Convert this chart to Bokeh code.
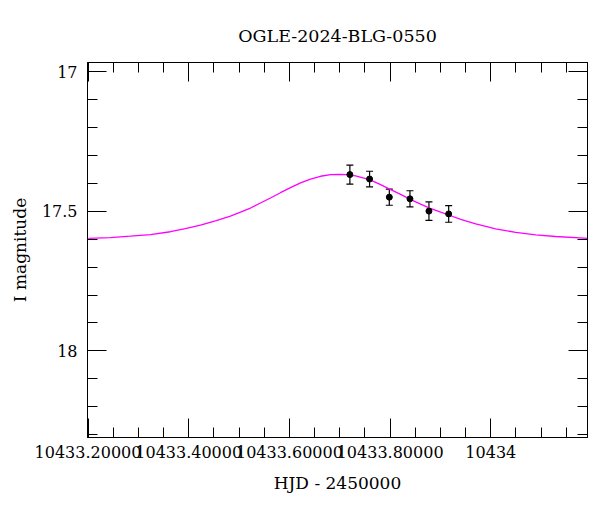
from bokeh.plotting import figure
from bokeh.models import Range1d, LinearAxis, FixedTicker, Whisker, ColumnDataSource, TeeHead
from bokeh.embed import file_html
from bokeh.resources import INLINE

# ---- data ----
title_text = "OGLE-2024-BLG-0550"
x_label = "HJD - 2450000"
y_label = "I magnitude"

obs_hjd = [10433.7201, 10433.7592, 10433.7984, 10433.8394, 10433.8771, 10433.9163]
obs_mag = [17.368, 17.384, 17.449, 17.455, 17.499, 17.509]
obs_err = [0.034, 0.028, 0.029, 0.029, 0.033, 0.030]

model_hjd = [10433.2006, 10433.2443, 10433.2841, 10433.3239, 10433.3636, 10433.3934,
             10433.4233, 10433.4531, 10433.4829, 10433.5028, 10433.5227, 10433.5425,
             10433.5624, 10433.5823, 10433.6022, 10433.6221, 10433.6419, 10433.6618,
             10433.6817, 10433.6976, 10433.7115, 10433.7314, 10433.7592, 10433.7811,
             10433.7990, 10433.8209, 10433.8388, 10433.8606, 10433.8785, 10433.9004,
             10433.9163, 10433.9402, 10433.9700, 10434.0097, 10434.0495, 10434.0893,
             10434.1290, 10434.1926]
model_mag = [17.597, 17.594, 17.589, 17.583, 17.573, 17.562,
             17.549, 17.534, 17.517, 17.503, 17.488, 17.470,
             17.452, 17.433, 17.415, 17.398, 17.384, 17.374,
             17.368, 17.367, 17.368, 17.373, 17.386, 17.404,
             17.420, 17.439, 17.456, 17.474, 17.488, 17.503,
             17.513, 17.529, 17.545, 17.563, 17.575, 17.584,
             17.590, 17.597]

x_major = [10433.2, 10433.4, 10433.6, 10433.8, 10434.0]
x_major_labels = ["10433.20000", "10433.40000", "10433.60000", "10433.80000", "10434"]
x_minor = [10433.2 + 0.05 * i for i in range(20)]
y_major = [17.0, 17.5, 18.0]
y_major_labels = ["17", "17.5", "18"]
y_minor = [17.0 + 0.1 * i for i in range(14)]

x_lim = (10433.199, 10434.192)
y_lim = (18.311, 16.966)  # inverted: bottom, top

FONT = "DejaVu Serif"

p = figure(width=592, height=504, output_backend="svg", toolbar_location=None,
           x_range=Range1d(*x_lim), y_range=Range1d(*y_lim),
           x_axis_label=x_label, y_axis_label=y_label,
           min_border_left=87, min_border_right=5, min_border_top=62, min_border_bottom=67)

p.background_fill_color = "white"
p.border_fill_color = "white"
p.outline_line_color = "black"
p.outline_line_width = 1
p.xgrid.visible = False
p.ygrid.visible = False

p.title.text = title_text
p.title.align = "center"
p.title.text_font = FONT
p.title.text_font_style = "normal"
p.title.text_font_size = "17.5px"
p.title.text_color = "black"
p.title.standoff = 33

xticker = FixedTicker(ticks=x_major, minor_ticks=x_minor)
yticker = FixedTicker(ticks=y_major, minor_ticks=y_minor)

def style_axis(ax, ticker, labels_on, ticks):
    ax.ticker = ticker
    ax.axis_line_color = "black"
    ax.major_tick_line_color = "black"
    ax.minor_tick_line_color = "black"
    ax.major_tick_in = 19
    ax.major_tick_out = 0
    ax.minor_tick_in = 10
    ax.minor_tick_out = 0
    if labels_on:
        ax.major_label_text_font = FONT
        ax.major_label_text_font_size = "16px"
        ax.major_label_text_color = "black"
        ax.axis_label_text_font = FONT
        ax.axis_label_text_font_size = "17px"
        ax.axis_label_text_font_style = "normal"
        ax.axis_label_text_color = "black"
    else:
        ax.major_label_overrides = {t: "" for t in ticks}
        ax.major_label_text_color = None
        ax.major_label_standoff = 0

xax = p.xaxis[0]
yax = p.yaxis[0]
style_axis(xax, xticker, True, x_major)
style_axis(yax, yticker, True, y_major)
xax.major_label_overrides = dict(zip(x_major, x_major_labels))
yax.major_label_overrides = dict(zip(y_major, y_major_labels))
xax.major_label_standoff = 8
xax.axis_label_standoff = 12
yax.major_label_standoff = 10
yax.axis_label_standoff = 9

top_ax = LinearAxis()
right_ax = LinearAxis()
style_axis(top_ax, xticker, False, x_major)
style_axis(right_ax, yticker, False, y_major)
p.add_layout(top_ax, "above")
p.add_layout(right_ax, "right")

# model curve
p.line(model_hjd, model_mag, line_color="#ff00ff", line_width=1.3)

# observations with error bars
src = ColumnDataSource(dict(
    t=obs_hjd, m=obs_mag,
    lo=[m + e for m, e in zip(obs_mag, obs_err)],
    hi=[m - e for m, e in zip(obs_mag, obs_err)],
))
p.add_layout(Whisker(source=src, base="t", upper="hi", lower="lo", dimension="height",
                     line_color="black", line_width=1.2,
                     upper_head=TeeHead(size=7, line_color="black", line_width=1.2),
                     lower_head=TeeHead(size=7, line_color="black", line_width=1.2)))
p.scatter("t", "m", source=src, size=6, color="black")

open("out.html", "w").write(file_html(p, INLINE))
